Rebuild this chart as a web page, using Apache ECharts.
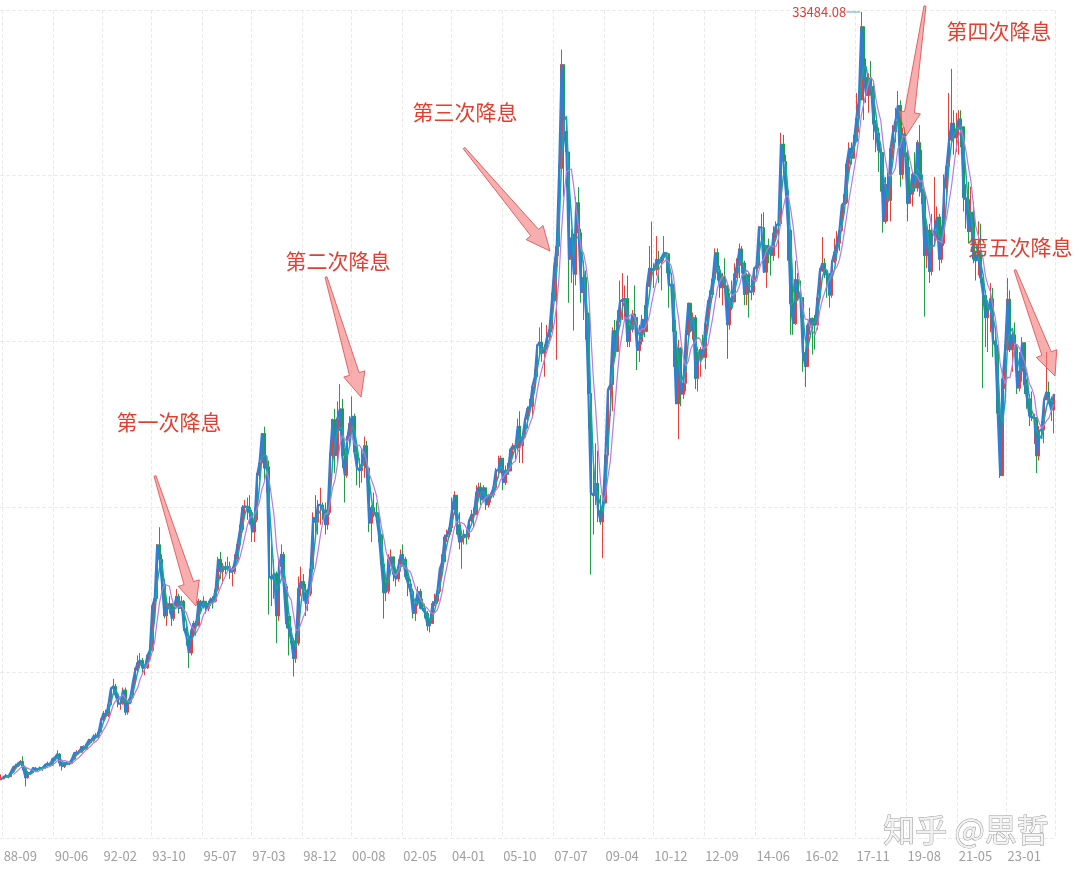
<!DOCTYPE html>
<html>
<head>
<meta charset="utf-8">
<title>恒生指数 降息</title>
<script src="https://cdn.jsdelivr.net/npm/echarts@6/dist/echarts.min.js"></script>
<style>
  html, body { margin: 0; padding: 0; background: #fff; }
  #main { width: 1080px; height: 873px; }
</style>
</head>
<body>
<div id="main"></div>
<script>
// monthly bars, 1988-08 .. 2024-08
const closes = [
  2400, 2470, 2520, 2480, 2687,
  2880, 2920, 3030, 3100, 2820, 2440, 2630, 2640, 2840, 2760, 2800, 2837,
  2820, 2970, 3010, 2950, 3200, 3250, 3400, 3040, 2900, 3050, 3000, 3025,
  3200, 3450, 3450, 3480, 3700, 3600, 3800, 3980, 3950, 4150, 4080, 4297,
  4780, 5050, 4950, 5400, 6050, 6150, 5800, 5450, 5450, 6000, 5100, 5512,
  5700, 6300, 6800, 7100, 7200, 6900, 6900, 7400, 7600, 9400, 9700, 11888,
  11300, 10300, 9000, 9300, 9500, 8900, 9400, 9800, 9300, 9600, 8500, 8191,
  7500, 8400, 8700, 8600, 9600, 9400, 9600, 9300, 9500, 9700, 9600, 10073,
  11300, 10800, 11000, 10900, 11000, 10800, 10800, 11300, 11900, 12500, 13400, 13451,
  13400, 13200, 12400, 12900, 14700, 15200, 16400, 15000, 15050, 10600, 10500, 10722,
  9000, 11000, 11500, 10200, 8700, 8500, 8000, 7275, 7900, 10100, 10400, 10049,
  9500, 9900, 10900, 13000, 12800, 13500, 13500, 13300, 12700, 13200, 15500, 16962,
  15500, 17000, 17400, 15500, 14700, 16150, 16800, 17100, 15650, 15000, 14900, 15096,
  15900, 15000, 12760, 13400, 13200, 13040, 12300, 11090, 9950, 10000, 11300, 11397,
  10700, 10500, 11000, 11500, 11300, 10600, 10300, 10000, 9100, 9500, 10000, 9321,
  9300, 9100, 8600, 8700, 9500, 9600, 10000, 10900, 11200, 12200, 12300, 12576,
  13300, 13900, 12700, 12000, 12200, 12300, 12200, 12850, 13100, 13100, 14000, 14230,
  13700, 14200, 13500, 13900, 13900, 14200, 14900, 14900, 15400, 14400, 14900, 14876,
  15750, 15900, 15800, 16700, 15900, 16250, 16970, 17400, 17500, 18300, 18700, 19965,
  20100, 19650, 19800, 20300, 20600, 21770, 23180, 23984, 27142, 31352, 28643, 27812,
  23455, 24331, 22849, 25755, 24533, 22102, 22731, 21261, 18016, 13969, 13888, 14387,
  13278, 12812, 13576, 15521, 18171, 18379, 20573, 19724, 20955, 21753, 21822, 21872,
  20122, 20609, 21239, 21108, 19765, 20129, 21030, 20537, 22358, 23096, 23008, 23035,
  23447, 23338, 23528, 23720, 23684, 22398, 22440, 20535, 17592, 19864, 17989, 18434,
  20390, 21680, 20555, 21094, 18630, 19441, 19796, 19482, 20840, 21642, 22030, 22657,
  23730, 23020, 22300, 22737, 22392, 20803, 21883, 21731, 22859, 23206, 23881, 23306,
  22035, 22837, 22151, 22133, 23082, 23191, 24757, 24742, 22933, 23998, 23987, 23605,
  24507, 24823, 24901, 28133, 27424, 26250, 24636, 21671, 20846, 22640, 21996, 21914,
  19683, 19112, 20777, 21067, 20815, 20794, 21891, 22977, 23297, 22935, 22790, 22001,
  23361, 23741, 24112, 24615, 25661, 25765, 27324, 27970, 27554, 28246, 29177, 29919,
  32887, 30845, 30093, 30808, 30469, 28955, 28583, 27889, 27789, 24980, 26507, 25846,
  27942, 28633, 29051, 29699, 26901, 28543, 27778, 25725, 26092, 26907, 26346, 28190,
  26313, 26130, 23603, 24644, 22961, 24427, 24595, 25177, 23459, 24107, 26341, 27231,
  28284, 28980, 28378, 28725, 29152, 28828, 25961, 25879, 24576, 25377, 23475, 23398,
  23802, 22713, 21997, 21089, 21415, 21860, 20157, 19955, 17223, 14687, 18597, 19781,
  21842, 19786, 20400, 19895, 18234, 18916, 20079, 18382, 17810, 17112, 17043, 17047,
  15485, 16511, 16541, 17763, 18080, 17719, 17345, 17989
]
const highs = [
  2580, 2520, 2600, 2570, 2700,
  2920, 3010, 3060, 3160, 3309, 2900, 2700, 2720, 2870, 2880, 2830, 2900,
  2900, 3000, 3100, 3060, 3220, 3300, 3559, 3440, 3100, 3070, 3100, 3060,
  3230, 3480, 3560, 3560, 3720, 3760, 3830, 4020, 4050, 4200, 4250, 4300,
  4850, 5150, 5200, 5450, 6100, 6450, 6250, 5850, 5600, 6100, 6100, 5580,
  5750, 6400, 6900, 7400, 7500, 7300, 6950, 7450, 7700, 9450, 9750, 11900,
  12599, 11500, 10500, 9600, 9800, 9450, 9500, 10100, 9900, 9800, 9650, 8600,
  8300, 8500, 8800, 8800, 9700, 9650, 9800, 9600, 9600, 9750, 9800, 10100,
  11400, 11600, 11150, 11200, 11400, 11200, 11000, 11500, 12000, 12700, 13500, 13700,
  13800, 13900, 13300, 13100, 14800, 15400, 16400, 16673, 15400, 15300, 11900, 11300,
  10800, 11300, 11900, 11600, 10300, 9000, 9000, 8100, 8300, 10600, 11000, 10700,
  10300, 10100, 11000, 13200, 13900, 13700, 14200, 13600, 13600, 13500, 15600, 17000,
  17400, 17700, 18397, 17800, 15800, 16300, 17100, 17900, 17200, 16100, 15400, 15800,
  16274, 16100, 14900, 13500, 14000, 13600, 13200, 12300, 11200, 10400, 11500, 11700,
  11400, 10900, 11300, 11700, 11900, 11400, 10800, 10500, 10100, 9700, 10200, 10100,
  9700, 9500, 9200, 8900, 9600, 9900, 10100, 10900, 11500, 12300, 12500, 12700,
  13800, 14058, 13900, 13200, 12200, 12500, 12500, 12900, 13300, 13400, 14300, 14400,
  14400, 14300, 14200, 13950, 14000, 14300, 15000, 15500, 15500, 15400, 15100, 15200,
  15800, 16000, 16000, 17000, 17300, 16400, 17000, 17500, 17800, 18400, 19000, 20000,
  20700, 20900, 20000, 20800, 21000, 22100, 23500, 23900, 27300, 31958, 30100, 28900,
  27800, 24700, 24500, 26000, 26387, 24700, 23400, 23000, 21300, 18400, 15400, 16000,
  15700, 13900, 14000, 15600, 18200, 19161, 20700, 21000, 21400, 22600, 22900, 22400,
  22800, 20800, 21400, 22400, 21100, 20800, 21200, 21600, 22400, 24000, 24988, 23300,
  24400, 23800, 23500, 24400, 23700, 23000, 22900, 22300, 21000, 20200, 19900, 19000,
  20400, 21700, 21300, 21300, 21200, 19700, 19900, 20400, 21000, 21800, 22200, 22700,
  23900, 23900, 23200, 22900, 23500, 22500, 22100, 22600, 23300, 23500, 24100, 24000,
  23400, 22900, 22900, 22700, 23100, 23300, 24800, 25300, 25363, 24000, 24300, 24000,
  24800, 25000, 24900, 28588, 28500, 27700, 26300, 24700, 22500, 23400, 22900, 22600,
  21800, 19800, 20800, 21500, 21100, 21200, 22200, 23100, 24364, 23500, 23000, 22900,
  23400, 24300, 24600, 24700, 25700, 26100, 27400, 28200, 28200, 28500, 30200, 30000,
  33484, 32500, 31600, 31000, 31500, 30700, 29100, 28800, 28000, 27700, 26800, 27000,
  28000, 28900, 29600, 30280, 29900, 28800, 28800, 27900, 27200, 27000, 27800, 28300,
  28900, 27900, 26300, 24800, 24900, 25300, 26800, 25600, 25300, 24800, 26900, 27200,
  30200, 31183, 29500, 29400, 29500, 29500, 28800, 26500, 26600, 26400, 25800, 23800,
  25000, 24900, 22000, 22200, 21800, 22500, 22300, 20400, 20000, 18000, 18700, 20000,
  22700, 22200, 20500, 20900, 20000, 19700, 20300, 20000, 18600, 18000, 18100, 17200,
  16800, 16700, 16900, 17800, 19706, 18500, 17900, 17900
]
const lows = [
  2350, 2380, 2440, 2420, 2470,
  2660, 2820, 2880, 2970, 2750, 2093, 2400, 2560, 2620, 2700, 2700, 2740,
  2720, 2800, 2900, 2900, 2940, 3130, 3220, 2900, 2736, 2840, 2950, 2960,
  2990, 3180, 3370, 3380, 3460, 3520, 3580, 3750, 3850, 3900, 4000, 4000,
  4270, 4750, 4850, 4900, 5350, 5900, 5700, 5300, 5200, 5400, 4978, 5000,
  5450, 5650, 6200, 6700, 6900, 6700, 6600, 6850, 7200, 7550, 8900, 9600,
  10900, 10000, 8900, 8600, 9100, 8600, 8800, 9400, 9100, 9200, 8400, 7800,
  6890, 7400, 8200, 8200, 8600, 9100, 9300, 9100, 9200, 9400, 9300, 9550,
  10000, 10500, 10300, 10700, 10800, 10500, 10200, 10700, 11200, 11800, 12400, 13100,
  12900, 12700, 12000, 12000, 12800, 14500, 15200, 14500, 14000, 9059, 9400, 9700,
  7900, 8800, 10600, 10000, 8500, 7400, 7900, 6545, 7100, 7800, 9800, 9600,
  9000, 9200, 9800, 10800, 12200, 12300, 12700, 12900, 12300, 12500, 13100, 15200,
  14800, 15200, 16500, 15000, 13600, 14600, 15800, 16500, 15500, 14300, 14200, 14400,
  14600, 14800, 12400, 12000, 13000, 12800, 12000, 10900, 8894, 9600, 9900, 11000,
  10400, 10200, 10400, 10800, 11000, 10500, 9800, 9900, 8900, 8800, 9400, 9300,
  9200, 8900, 8400, 8331, 8700, 9400, 9500, 9900, 10600, 11200, 12000, 12200,
  12400, 13100, 12300, 11700, 10917, 11900, 11900, 12100, 12800, 12600, 13100, 13800,
  13500, 13600, 13300, 13400, 13600, 13800, 14100, 14600, 14800, 14100, 14300, 14800,
  14900, 15400, 15300, 15700, 15200, 15200, 16200, 16600, 17100, 17100, 18200, 18600,
  19600, 19300, 18700, 19800, 20200, 20500, 21800, 19386, 23600, 27000, 26000, 26400,
  21700, 22500, 20572, 22400, 24100, 21700, 21000, 20200, 16600, 10676, 12300, 13500,
  12800, 12700, 11345, 13600, 15300, 17100, 17300, 19500, 19800, 20900, 21000, 21000,
  19900, 19900, 20500, 20900, 18971, 19300, 20000, 20300, 20500, 22400, 22800, 22300,
  22800, 22500, 22200, 23400, 22900, 21500, 21800, 19100, 17900, 16170, 17500, 17800,
  18100, 20200, 20500, 20200, 18200, 18100, 18700, 19400, 19000, 20700, 21400, 21900,
  22700, 22600, 21900, 21600, 22200, 19426, 20600, 21400, 21900, 22700, 22700, 22900,
  21600, 21600, 21100, 21800, 22000, 22700, 23100, 24200, 22900, 22300, 23300, 22800,
  23400, 24300, 23500, 24800, 26900, 25900, 23400, 20400, 20400, 20800, 21800, 21100,
  18900, 18279, 19100, 20400, 19600, 19800, 20600, 21800, 23100, 22700, 21900, 21500,
  21900, 23300, 23400, 23800, 24600, 25300, 25700, 26900, 27300, 27600, 28200, 28600,
  30000, 29100, 29800, 29400, 30100, 28300, 27800, 27000, 26200, 24540, 24900, 25000,
  25000, 27500, 28200, 29000, 26400, 26700, 27600, 25000, 25800, 25600, 26200, 26200,
  26000, 25700, 21139, 23100, 22500, 22800, 24100, 24300, 23000, 23300, 24000, 25900,
  27000, 28600, 27700, 27800, 27700, 28000, 25400, 24700, 24100, 24600, 23300, 22600,
  22800, 22500, 18235, 19900, 19700, 20500, 19500, 19200, 17100, 14597, 14800, 18200,
  19800, 19700, 18900, 19700, 18000, 18100, 18500, 18000, 17400, 16700, 16900, 15972,
  14794, 15300, 16200, 16000, 17800, 17600, 16900, 16400
]
const firstOpen = 2350
const tickLabels = ['88-09', '90-06', '92-02', '93-10', '95-07', '97-03', '98-12', '00-08',
  '02-05', '04-01', '05-10', '07-07', '09-04', '10-12', '12-09', '14-06', '16-02', '17-11',
  '19-08', '21-05', '23-01']
const notes = ['第一次降息', '第二次降息', '第三次降息', '第四次降息', '第五次降息']
const peakMonth = '18-01'
const peakValue = 33484.08

// category labels yy-mm
const months = []
for (let y = 1988, m = 8; months.length < closes.length; m++) {
  if (m > 12) { m = 1; y++ }
  months.push(String(y % 100).padStart(2, '0') + '-' + String(m).padStart(2, '0'))
}

const kData = closes.map((c, i) => {
  const o = i === 0 ? firstOpen : closes[i - 1]
  return [o, c, lows[i], highs[i]]
})

function ma (n) {
  return closes.map((c, i) => {
    if (i < n - 1) return '-'
    let s = 0
    for (let k = i - n + 1; k <= i; k++) s += closes[k]
    return Math.round(s / n)
  })
}

const showTick = (idx, val) => tickLabels.indexOf(val) >= 0

const chart = echarts.init(document.getElementById('main'))
const option = {
  animation: false,
  backgroundColor: '#fff',
  grid: { left: 0, right: 25, top: 10, bottom: 35 },
  xAxis: {
    type: 'category',
    data: months,
    boundaryGap: true,
    axisLine: { show: false },
    axisTick: { show: false, interval: showTick },
    axisLabel: {
      interval: showTick,
      align: 'left',
      margin: 12,
      color: '#a0a0a0',
      fontSize: 13,
      fontFamily: 'Noto Sans CJK SC'
    },
    splitLine: {
      show: true,
      interval: showTick,
      lineStyle: { color: '#ebebeb', type: 'dashed' }
    }
  },
  yAxis: {
    type: 'value',
    min: 0,
    max: 33565,
    interval: 6713,
    axisLine: { show: false },
    axisTick: { show: false },
    axisLabel: { show: false },
    splitLine: { lineStyle: { color: '#ebebeb', type: 'dashed' } }
  },
  series: [
    {
      name: 'K',
      type: 'candlestick',
      data: kData,
      barWidth: 2,
      itemStyle: {
        color: '#e8413c',
        color0: '#1f9e48',
        borderColor: '#e8413c',
        borderColor0: '#1f9e48',
        borderWidth: 1
      }
    },
    {
      name: 'close',
      type: 'line',
      data: closes,
      symbol: 'none',
      lineStyle: { color: '#2f7fd6', width: 2.2 }
    },
    {
      name: 'MA3',
      type: 'line',
      data: ma(3),
      symbol: 'none',
      lineStyle: { color: '#1ba3aa', width: 1.5 }
    },
    {
      name: 'MA6',
      type: 'line',
      data: ma(6),
      symbol: 'none',
      lineStyle: { color: '#b87be0', width: 1.2 }
    }
  ]
}
chart.setOption(option)

// annotation arrows: thin wedge from tail to tip
function arrow (x0, y0, x1, y1) {
  const dx = x1 - x0
  const dy = y1 - y0
  const len = Math.sqrt(dx * dx + dy * dy)
  const ux = dx / len
  const uy = dy / len
  const nx = -uy
  const ny = ux
  const headLen = 24
  const bx = x1 - ux * headLen
  const by = y1 - uy * headLen
  const pts = [
    [x0 + nx * 1, y0 + ny * 1],
    [bx + nx * 5, by + ny * 5],
    [bx + nx * 11, by + ny * 11],
    [x1, y1],
    [bx - nx * 11, by - ny * 11],
    [bx - nx * 5, by - ny * 5],
    [x0 - nx * 1, y0 - ny * 1]
  ]
  return {
    type: 'polygon',
    shape: { points: pts },
    style: { fill: 'rgba(242,120,120,0.6)', stroke: 'rgba(225,80,80,0.85)', lineWidth: 1 },
    z: 100
  }
}

const noteStyle = (text, x, y) => ({
  type: 'text',
  x: x,
  y: y,
  style: {
    text: text,
    fill: '#e0402f',
    font: '21px "Noto Sans CJK SC"',
    textAlign: 'center',
    textVerticalAlign: 'middle'
  },
  z: 101
})

const p = chart.convertToPixel({ xAxisIndex: 0, yAxisIndex: 0 }, [peakMonth, peakValue])

chart.setOption({
  graphic: [
    noteStyle(notes[0], 169, 422),
    noteStyle(notes[1], 338, 261),
    noteStyle(notes[2], 465, 112),
    noteStyle(notes[3], 999, 31),
    noteStyle(notes[4], 1020, 247),
    arrow(155, 476, 196, 606),
    arrow(326, 277, 361, 397),
    arrow(464, 148, 550, 251),
    arrow(925, 6, 906, 136),
    arrow(1015, 270, 1055, 376),
    {
      type: 'line',
      shape: { x1: p[0] - 15, y1: p[1], x2: p[0] - 1, y2: p[1] },
      style: { stroke: '#5aa7c0', lineWidth: 1 },
      z: 102
    },
    {
      type: 'text',
      x: p[0] - 15,
      y: p[1],
      style: {
        text: peakValue.toFixed(2),
        fill: '#d8403a',
        font: '13px "Noto Sans CJK SC"',
        textAlign: 'right',
        textVerticalAlign: 'middle'
      },
      z: 102
    },
    {
      type: 'text',
      x: 966,
      y: 830,
      style: {
        text: '知乎 @思哲',
        fill: '#f2f2f2',
        stroke: '#9a9a9a',
        lineWidth: 1,
        font: '32px "Noto Sans CJK SC"',
        textAlign: 'center',
        textVerticalAlign: 'middle',
        shadowColor: 'rgba(0,0,0,0.4)',
        shadowBlur: 2,
        shadowOffsetX: 1,
        shadowOffsetY: 1
      },
      z: 103
    }
  ]
})
</script>
</body>
</html>
